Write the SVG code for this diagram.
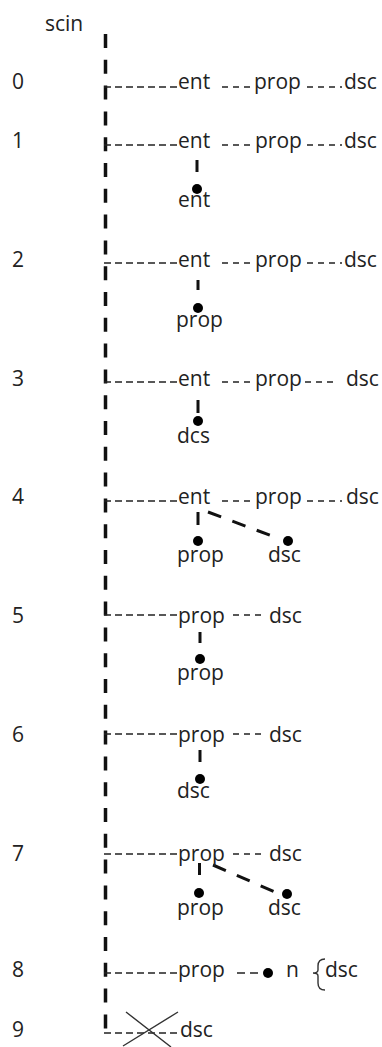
<svg xmlns="http://www.w3.org/2000/svg" width="382" height="1047" viewBox="0 0 382 1047">
<style>
.t{font-family:"Open Sans","DejaVu Sans",sans-serif;font-size:21px;fill:#222}
.h{stroke:#222;stroke-width:1.6;fill:none;stroke-dasharray:7 4}
.h2{stroke:#222;stroke-width:1.6;fill:none;stroke-dasharray:6 5}
.s{stroke:#111;stroke-width:3;fill:none}
.dg{stroke:#111;stroke-width:3;fill:none;stroke-dasharray:14 12}
.x{stroke:#333;stroke-width:1.4;fill:none}
.dot{fill:#000}
</style>
<rect width="382" height="1047" fill="#fff"/>
<g id="connectors">
  <path id="scin-line" d="M105.5 34 V1032" stroke="#111" stroke-width="3.5" fill="none" stroke-dasharray="14 11.8"/>
  <!-- row 0 -->
  <path class="h" d="M104 87 H178"/><path class="h2" d="M222 87 H252"/><path class="h2" d="M307 87 H342"/>
  <!-- row 1 -->
  <path class="h" d="M104 145 H178"/><path class="h2" d="M222 145 H252"/><path class="h2" d="M307 145 H342"/>
  <path class="s" d="M197 160 V172"/>
  <!-- row 2 -->
  <path class="h" d="M104 263 H178"/><path class="h2" d="M222 263 H252"/><path class="h2" d="M307 263 H342"/>
  <path class="s" d="M198 280 V290"/>
  <!-- row 3 -->
  <path class="h" d="M104 382 H178"/><path class="h2" d="M222 382 H252"/><path class="h2" d="M305 382 H337"/>
  <path class="s" d="M198 400 V413"/>
  <!-- row 4 -->
  <path class="h" d="M104 501 H178"/><path class="h2" d="M222 501 H252"/><path class="h2" d="M307 501 H342"/>
  <path class="s" d="M198 512 V525"/>
  <path class="dg" d="M208 512 L272 536"/>
  <!-- row 5 -->
  <path class="h" d="M104 615 H178"/><path class="h2" d="M233 615 H263"/>
  <path class="s" d="M200 632 V643"/>
  <!-- row 6 -->
  <path class="h" d="M104 734 H178"/><path class="h2" d="M233 734 H263"/>
  <path class="s" d="M200 750 V762"/>
  <!-- row 7 -->
  <path class="h" d="M104 854 H178"/><path class="h2" d="M233 854 H263"/>
  <path class="s" d="M199.5 863 V875"/>
  <path class="dg" d="M213 865 L275 892"/>
  <!-- row 8 -->
  <path class="h" d="M104 973 H178"/>
  <path class="h2" d="M237 973 H262" style="stroke-dasharray:8 5"/>
  <path id="brace" class="x" d="M325 959 Q318 959 318 966 V970 Q318 973 313 973 Q318 973 318 976 V983 Q318 990 325 990"/>
  <!-- row 9 -->
  <path class="h" d="M104 1033 H178"/>
  <path id="cross" class="x" d="M123 1046 L178 1012 M126 1012 L171 1047"/>
</g>
<g id="header"><text class="t" x="45" y="31">scin</text></g>
<g id="row-labels">
  <text class="t" x="12" y="89">0</text>
  <text class="t" x="12" y="148">1</text>
  <text class="t" x="12" y="267">2</text>
  <text class="t" x="12" y="386">3</text>
  <text class="t" x="12" y="504">4</text>
  <text class="t" x="12" y="623">5</text>
  <text class="t" x="12" y="742">6</text>
  <text class="t" x="12" y="861">7</text>
  <text class="t" x="12" y="977">8</text>
  <text class="t" x="12" y="1037">9</text>
</g>
<g id="row0"><text class="t" x="178" y="89">ent</text><text class="t" x="254" y="89">prop</text><text class="t" x="344" y="89">dsc</text></g>
<g id="row1"><text class="t" x="178" y="148">ent</text><text class="t" x="255" y="148">prop</text><text class="t" x="344" y="148">dsc</text></g>
<g id="row1-sub"><circle class="dot" cx="197" cy="189" r="5"/><text class="t" x="178" y="207">ent</text></g>
<g id="row2"><text class="t" x="178" y="267">ent</text><text class="t" x="255" y="267">prop</text><text class="t" x="344" y="267">dsc</text></g>
<g id="row2-sub"><circle class="dot" cx="198" cy="308" r="5"/><text class="t" x="176" y="327">prop</text></g>
<g id="row3"><text class="t" x="178" y="386">ent</text><text class="t" x="255" y="386">prop</text><text class="t" x="346" y="386">dsc</text></g>
<g id="row3-sub"><circle class="dot" cx="198" cy="421" r="5"/><text class="t" x="177" y="443">dcs</text></g>
<g id="row4"><text class="t" x="178" y="504">ent</text><text class="t" x="255" y="504">prop</text><text class="t" x="346" y="504">dsc</text></g>
<g id="row4-sub-prop"><circle class="dot" cx="198" cy="541" r="5"/><text class="t" x="177" y="562">prop</text></g>
<g id="row4-sub-dsc"><circle class="dot" cx="288" cy="541" r="5"/><text class="t" x="268" y="562">dsc</text></g>
<g id="row5"><text class="t" x="178" y="623">prop</text><text class="t" x="269" y="623">dsc</text></g>
<g id="row5-sub"><circle class="dot" cx="200" cy="659" r="5"/><text class="t" x="177" y="680">prop</text></g>
<g id="row6"><text class="t" x="178" y="742">prop</text><text class="t" x="269" y="742">dsc</text></g>
<g id="row6-sub"><circle class="dot" cx="200" cy="779" r="5"/><text class="t" x="177" y="798">dsc</text></g>
<g id="row7"><text class="t" x="178" y="861">prop</text><text class="t" x="269" y="861">dsc</text></g>
<g id="row7-sub-prop"><circle class="dot" cx="199" cy="893" r="5"/><text class="t" x="177" y="915">prop</text></g>
<g id="row7-sub-dsc"><circle class="dot" cx="287" cy="894" r="5"/><text class="t" x="268" y="915">dsc</text></g>
<g id="row8"><text class="t" x="178" y="977">prop</text><circle class="dot" cx="268" cy="973" r="5"/><text class="t" x="286" y="977">n</text><text class="t" x="325" y="977">dsc</text></g>
<g id="row9"><text class="t" x="180" y="1037">dsc</text></g>
</svg>
